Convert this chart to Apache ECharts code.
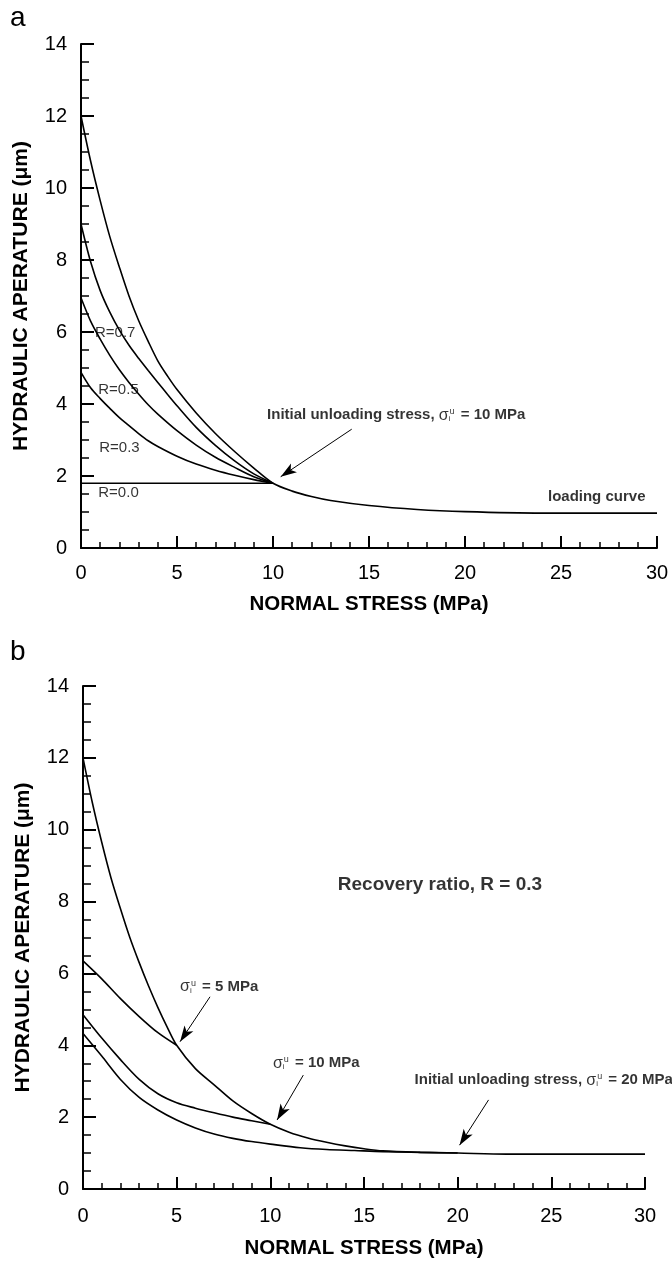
<!DOCTYPE html>
<html><head><meta charset="utf-8">
<script src="https://cdn.jsdelivr.net/npm/echarts@6/dist/echarts.min.js"></script>
<style>html,body{margin:0;padding:0;background:#fff}#c{width:672px;height:1261px}</style>
</head><body><div id="c"></div>
<script>
// ---- Panel a data (normal stress MPa, hydraulic aperture um) ----
const aLoading = [[0,12],[0.5,10.75],[1,9.65],[1.5,8.65],[2,7.8],[2.5,7.0],[3,6.32],[3.5,5.74],[4,5.2],[4.5,4.78],[5,4.4],[6,3.75],[7,3.18],[8,2.68],[9,2.22],[10,1.8],[11,1.58],[12,1.43],[13,1.32],[15,1.18],[17.5,1.07],[20,1.01],[24,0.97],[30,0.97]];
const aR07 = [[0,9.0],[0.5,7.95],[1,7.15],[1.5,6.55],[2,6.05],[2.5,5.63],[3,5.27],[3.5,4.93],[4,4.6],[4.5,4.27],[5,3.95],[6,3.35],[7,2.85],[8,2.42],[9,2.06],[10,1.8]];
const aR05 = [[0,6.95],[0.5,6.3],[1,5.8],[1.5,5.35],[2,4.95],[2.5,4.6],[3,4.28],[3.5,3.98],[4,3.72],[5,3.26],[6,2.86],[7,2.52],[8,2.24],[9,1.98],[10,1.8]];
const aR03 = [[0,4.88],[0.5,4.45],[1,4.15],[1.5,3.88],[2,3.62],[2.5,3.4],[3,3.18],[3.5,2.98],[4,2.82],[5,2.55],[6,2.33],[7,2.16],[8,2.02],[9,1.9],[10,1.8]];
const aR00 = [[0,1.8],[10,1.8]];
// ---- Panel b data ----
const bLoading = [[0,12],[0.5,10.75],[1,9.65],[1.5,8.65],[2,7.8],[2.5,7.0],[3,6.3],[3.5,5.65],[4,5.05],[4.5,4.5],[5,4.0],[6,3.35],[7,2.9],[8,2.45],[9,2.1],[10,1.8],[11,1.58],[12,1.42],[13,1.3],[14,1.2],[15,1.12],[16,1.06],[18,1.02],[20,1.0],[22.6,0.97],[30,0.97]];
const bS5 = [[0,6.35],[1,5.85],[2,5.3],[3,4.8],[4,4.35],[5,4.0]];
const bS10 = [[0,4.85],[1,4.2],[2,3.6],[3,3.05],[4,2.65],[5,2.4],[6,2.25],[7,2.12],[8,2.0],[9,1.9],[10,1.8]];
const bS20 = [[0,4.33],[1,3.7],[2,3.05],[3,2.55],[4,2.2],[5,1.92],[6,1.7],[7,1.53],[8,1.41],[9,1.32],[10,1.25],[11.6,1.15],[13,1.1],[14.5,1.07],[16,1.04],[18,1.02],[20,1.0]];
// ---- Axis ticks ----
const xTicks = [0,5,10,15,20,25,30];
const yTicks = [0,2,4,6,8,10,12,14];

const FONT = "'Liberation Sans', Arial, Helvetica, sans-serif";
const chart = echarts.init(document.getElementById('c'), null, {renderer:'canvas'});

function xAxis(gi, margin, gap){
  return {
    type:'value', gridIndex:gi, min:xTicks[0], max:xTicks[xTicks.length-1], interval:5,
    name:'NORMAL STRESS (MPa)', nameLocation:'middle', nameGap:gap,
    nameTextStyle:{fontFamily:FONT, fontSize:20.5, fontWeight:'bold', color:'#000'},
    axisLine:{show:true, onZero:false, lineStyle:{color:'#000', width:2}},
    axisTick:{show:true, inside:true, length:12, lineStyle:{color:'#000', width:2}},
    minorTick:{show:true, splitNumber:5, length:6, lineStyle:{color:'#000', width:1.5}},
    splitLine:{show:false},
    axisLabel:{fontFamily:FONT, fontSize:20, color:'#000', margin:margin}
  };
}
function yAxis(gi){
  return {
    type:'value', gridIndex:gi, min:yTicks[0], max:yTicks[yTicks.length-1], interval:2,
    name:'HYDRAULIC APERATURE (\u03bcm)', nameLocation:'middle', nameGap:49, nameRotate:90,
    nameTextStyle:{fontFamily:FONT, fontSize:21, fontWeight:'bold', color:'#000'},
    axisLine:{show:true, onZero:false, lineStyle:{color:'#000', width:2}},
    axisTick:{show:true, inside:true, length:13, lineStyle:{color:'#000', width:2}},
    minorTick:{show:true, splitNumber:4, length:8, lineStyle:{color:'#000', width:1.5}},
    splitLine:{show:false},
    axisLabel:{fontFamily:FONT, fontSize:20, color:'#000', margin:14}
  };
}
function curve(gi, data, arrows){
  const s = {type:'line', xAxisIndex:gi, yAxisIndex:gi, data:data, showSymbol:false, smooth:0.3,
    lineStyle:{color:'#000', width:1.6}, silent:true, z:3};
  if (arrows){
    s.markLine = {silent:true, symbol:['none','arrow'], symbolSize:[8,16], label:{show:false},
      lineStyle:{color:'#000', width:1, type:'solid'},
      data: arrows.map(a=>[{coord:a[0]},{coord:a[1]}])};
  }
  return s;
}
const rich = {
  t:{fontFamily:FONT, fontSize:15, fontWeight:'bold', color:'#000'},
  sig:{fontFamily:FONT, fontSize:16, color:'#000'},
  sb:{fontFamily:FONT, fontSize:8, color:'#000', verticalAlign:'bottom', width:1, padding:[7,0,0,0]},
  sp:{fontFamily:FONT, fontSize:9, color:'#000', verticalAlign:'top', padding:[0,2,7,0]},
  r:{fontFamily:FONT, fontSize:15, color:'#000'},
  big:{fontFamily:FONT, fontSize:19, fontWeight:'bold', color:'#000'}
};
function texts(gi, items){
  return {type:'scatter', xAxisIndex:gi, yAxisIndex:gi, symbolSize:0, silent:true, z:5, clip:false,
    data: items.map(it=>({value:it[0], label:{show:true, position:[0,0], align:it[2]||'left', verticalAlign:'middle',
      formatter:it[1], rich:rich}}))};
}
const SIG = '{sig|\u03c3}{sb|i}{sp|u}';

const option = {
  animation:false,
  backgroundColor:'#fff',
  grid:[
    {left:81, top:44, width:576, height:504},
    {left:83, top:686, width:562, height:503}
  ],
  xAxis:[xAxis(0, 15, 46), xAxis(1, 17, 49)],
  yAxis:[yAxis(0), yAxis(1)],
  graphic:[
    {type:'text', left:10, top:4, style:{text:'a', font:"28px "+FONT, fill:'#000'}},
    {type:'text', left:10, top:638, style:{text:'b', font:"28px "+FONT, fill:'#000'}}
  ],
  series:[
    curve(0, aLoading, [[[14.1,3.3],[10.4,1.98]]]),
    curve(0, aR07), curve(0, aR05), curve(0, aR03), curve(0, aR00),
    texts(0, [
      [[9.69,3.69], '{t|Initial unloading stress, }'+SIG+'{t| = 10 MPa}'],
      [[29.4,1.42], '{t|loading curve}', 'right'],
      [[0.73,5.97], '{r|R=0.7}'],
      [[0.9,4.39], '{r|R=0.5}'],
      [[0.95,2.78], '{r|R=0.3}'],
      [[0.9,1.52], '{r|R=0.0}']
    ]),
    curve(1, bLoading, [[[6.78,5.35],[5.18,4.1]],[[11.76,3.17],[10.36,1.92]],[[21.65,2.48],[20.1,1.22]]]),
    curve(1, bS5), curve(1, bS10), curve(1, bS20),
    texts(1, [
      [[13.6,8.46], '{big|Recovery ratio, R = 0.3}'],
      [[5.18,5.63], SIG+'{t| = 5 MPa}'],
      [[10.14,3.5], SIG+'{t| = 10 MPa}'],
      [[17.7,3.03], '{t|Initial unloading stress, }'+SIG+'{t| = 20 MPa}']
    ])
  ]
};
chart.setOption(option);
</script></body></html>
